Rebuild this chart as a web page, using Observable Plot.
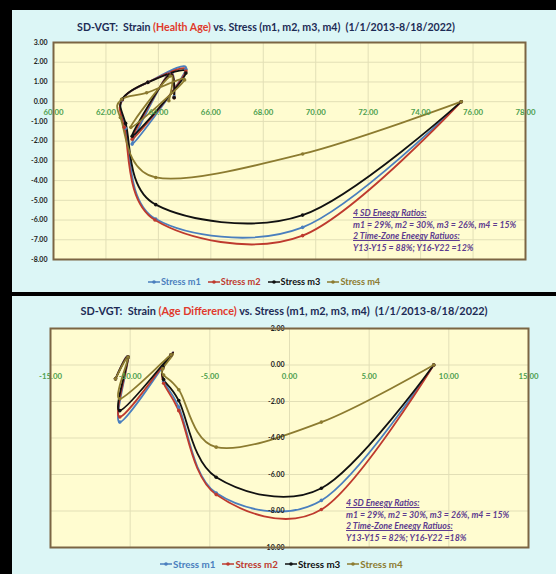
<!DOCTYPE html>
<html>
<head>
<meta charset="utf-8">
<script src="https://cdn.jsdelivr.net/npm/d3@7"></script>
<script src="https://cdn.jsdelivr.net/npm/@observablehq/plot@0.6"></script>
<style>
  html, body { margin: 0; padding: 0; background: #000; }
  body { width: 556px; height: 574px; position: relative; overflow: hidden; font-family: Lato, "Open Sans", sans-serif; }
  .panel { position: absolute; left: 12px; width: 544px; background: #dcf6f6; overflow: hidden; }
  .panel svg { position: absolute; left: 0; top: 0; }
  .title { position: absolute; left: 0; font-weight: bold; color: #1d2b55; font-size: 11px; white-space: nowrap; text-align: center; }
  .title .red { color: #e03a2c; }
  .legend { position: absolute; display: flex; gap: 7px; font-weight: bold; white-space: nowrap; }
  .legend span { display: inline-flex; align-items: center; }
  .legend svg { position: static; margin-right: 1px; }
  .note { position: absolute; color: #5e3c8f; font-weight: bold; font-style: italic; font-size: 8.8px; line-height: 11.6px; white-space: nowrap; }
  .note u { text-decoration: underline; }
</style>
</head>
<body>
<div class="panel" id="p1" style="top:10px;height:282px;"></div>
<div class="panel" id="p2" style="top:296px;height:278px;"></div>
<script>
// ---------- data ----------
const years = ["Y13","Y14","Y15","Y16","Y17","Y18","Y19","Y20","Y21","Y22"];
const series = ["Stress m1","Stress m2","Stress m3","Stress m4"];
const colors = ["#4a7fbe","#be3a2e","#111111","#8c7b30"];

// Chart 1: Strain (Health Age) vs Stress
const haX_m1 = [75.55, 69.5, 63.9, 62.75, 62.62, 63.6, 65.05, 63.0, 64.4, 64.6];
const haY_m1 = [0.00, -6.37, -5.95, -1.35, 0.08, 0.98, 1.65, -2.15, 1.45, 0.25];
const haX_m2 = [75.55, 69.5, 63.87, 62.7, 62.62, 63.6, 65.05, 63.0, 64.4, 64.6];
const haY_m2 = [0.00, -6.79, -6.00, -1.30, 0.10, 0.98, 1.55, -1.90, 1.40, 0.20];
const haX_m3 = [75.55, 69.5, 63.9, 62.75, 62.62, 63.6, 65.05, 63.0, 64.4, 64.6];
const haY_m3 = [0.00, -5.75, -5.22, -1.10, 0.12, 0.98, 1.45, -1.75, 1.35, 0.20];
const haX_m4 = [75.55, 69.5, 63.9, 62.55, 62.6, 63.55, 65.0, 62.95, 64.45, 64.4];
const haY_m4 = [0.00, -2.65, -3.84, -0.80, 0.12, 0.45, 1.10, -1.30, 1.30, 0.05];

// Chart 2: Strain (Age Difference) vs Stress
const adX_m1 = [9.05, 2.0, -4.6, -6.95, -7.9, -7.95, -7.43, -10.65, -10.13, -10.92];
const adY_m1 = [0.00, -7.42, -7.02, -2.30, -0.90, -0.15, 0.56, -3.13, 0.43, -0.76];
const adX_m2 = [9.05, 2.0, -4.6, -6.95, -7.9, -7.95, -7.43, -10.65, -10.13, -10.92];
const adY_m2 = [0.00, -7.92, -7.10, -2.50, -1.00, -0.15, 0.56, -2.85, 0.43, -0.76];
const adX_m3 = [9.05, 2.0, -4.6, -6.95, -7.9, -7.95, -7.43, -10.65, -10.13, -10.92];
const adY_m3 = [0.00, -6.75, -6.15, -1.95, -0.80, -0.10, 0.56, -2.50, 0.43, -0.76];
const adX_m4 = [9.05, 2.0, -4.6, -6.95, -7.9, -7.95, -7.43, -10.65, -10.13, -10.92];
const adY_m4 = [0.00, -3.13, -4.50, -1.36, -0.55, -0.20, 0.56, -1.85, 0.43, -0.76];

// tick labels
const xTicks1 = [60, 62, 64, 66, 68, 70, 72, 74, 76, 78];
const yTicks1 = [3, 2, 1, 0, -1, -2, -3, -4, -5, -6, -7, -8];
const xTicks2 = [-15, -10, -5, 0, 5, 10, 15];
const yTicks2 = [2, 0, -2, -4, -6, -8, -10];

const title1 = ["SD-VGT:\u00a0 Strain ", "(Health Age)", " vs. Stress (m1, m2, m3, m4)\u00a0 (1/1/2013-8/18/2022)"];
const title2 = ["SD-VGT:\u00a0 Strain ", "(Age Difference)", " vs. Stress (m1, m2, m3, m4)\u00a0 (1/1/2013-8/18/2022)"];
const note1 = ["4 SD Eneegy Ratios:", "m1 = 29%, m2 = 30%, m3 = 26%, m4 = 15%", "2 Time-Zone Eneegy Ratiuos:", "Y13-Y15 = 88%;  Y16-Y22 =12%"];
const note2 = ["4 SD Eneegy Ratios:", "m1 = 29%, m2 = 30%, m3 = 26%, m4 = 15%", "2 Time-Zone Eneegy Ratiuos:", "Y13-Y15 = 82%;  Y16-Y22 =18%"];

// ---------- build rows ----------
function rows(xs, ys) {
  const out = [];
  xs.forEach((xa, si) => xa.forEach((x, i) => out.push({s: series[si], year: years[i], x, y: ys[si][i]})));
  return out;
}
const data1 = rows([haX_m1, haX_m2, haX_m3, haX_m4], [haY_m1, haY_m2, haY_m3, haY_m4]);
const data2 = rows([adX_m1, adX_m2, adX_m3, adX_m4], [adY_m1, adY_m2, adY_m3, adY_m4]);

const FILL = "#fffcd0", BORDER = "#7b6543", GRID = "#e2dfb6", GREEN = "#4e9f4e";

function chart(data, opt) {
  return Plot.plot({
    width: 544, height: opt.height,
    marginLeft: opt.ml, marginRight: opt.mr, marginTop: opt.mt, marginBottom: opt.mb,
    style: {background: "transparent", fontFamily: "Lato, sans-serif"},
    x: {domain: opt.xd, axis: null},
    y: {domain: opt.yd, axis: null},
    color: {domain: series, range: colors},
    marks: [
      Plot.frame({fill: FILL, stroke: null}),
      Plot.gridX(opt.gx, {stroke: GRID, strokeOpacity: 1, strokeWidth: 1}),
      Plot.gridY(opt.gy, {stroke: GRID, strokeOpacity: 1, strokeWidth: 1}),
      Plot.line(data, {x: "x", y: "y", z: "s", stroke: "s", curve: "cardinal", strokeWidth: 1.8}),
      Plot.dot(data, {x: "x", y: "y", fill: "s", r: 1.8, stroke: null}),
      Plot.text(opt.xt, {x: d => d, y: () => 0, text: d => d.toFixed(2), dy: 11, fill: GREEN, fontSize: 7.8, fontWeight: "bold"}),
      opt.yAt0
        ? Plot.text(opt.yt, {x: () => 0, y: d => d, text: d => d.toFixed(2), textAnchor: "end", dx: -5, fill: "#222", fontSize: 7, fontWeight: "bold"})
        : Plot.text(opt.yt, {y: d => d, frameAnchor: "left", text: d => d.toFixed(2), textAnchor: "end", dx: -6, fill: "#222", fontSize: 7, fontWeight: "bold"}),
      Plot.frame({stroke: BORDER, strokeWidth: 2})
    ]
  });
}

function legendHTML(top, left, fs) {
  const d = document.createElement("div");
  d.className = "legend";
  d.style.top = top + "px"; d.style.left = left + "px"; d.style.fontSize = fs + "px";
  series.forEach((s, i) => {
    const sp = document.createElement("span");
    sp.style.color = colors[i];
    sp.innerHTML = `<svg width="12" height="6"><line x1="0" y1="3" x2="12" y2="3" stroke="${colors[i]}" stroke-width="1.5"/><circle cx="6" cy="3" r="1.8" fill="${colors[i]}"/></svg>${s}`;
    d.appendChild(sp);
  });
  return d;
}
function titleHTML(parts, top, center, fs) {
  const d = document.createElement("div");
  d.className = "title";
  d.style.top = top + "px"; d.style.width = (center * 2) + "px"; d.style.fontSize = fs + "px";
  d.innerHTML = `${parts[0]}<span class="red">${parts[1]}</span>${parts[2]}`;
  return d;
}
function noteHTML(lines, left, top) {
  const d = document.createElement("div");
  d.className = "note";
  d.style.left = left + "px"; d.style.top = top + "px";
  d.innerHTML = lines.map((l, i) => i % 2 === 0 ? `<u>${l}</u>` : l).join("<br>");
  return d;
}

const p1 = document.getElementById("p1");
p1.appendChild(chart(data1, {height: 282, ml: 41, mr: 31, mt: 32, mb: 33, xd: [60, 78], yd: [-8, 3],
  gx: xTicks1, gy: yTicks1, xt: xTicks1, yt: yTicks1, yAt0: false}));
p1.appendChild(titleHTML(title1, 11, 254, 10.6));
p1.appendChild(noteHTML(note1, 341, 197));
p1.appendChild(legendHTML(266, 136, 9.2));

const p2 = document.getElementById("p2");
p2.appendChild(chart(data2, {height: 278, ml: 38, mr: 28, mt: 32, mb: 27, xd: [-15, 15], yd: [-10, 2],
  gx: xTicks2, gy: yTicks2, xt: xTicks2, yt: yTicks2, yAt0: true}));
p2.appendChild(titleHTML(title2, 8, 272, 10.9));
p2.appendChild(noteHTML(note2, 334, 201));
p2.appendChild(legendHTML(262, 148, 9.8));
</script>
</body>
</html>
